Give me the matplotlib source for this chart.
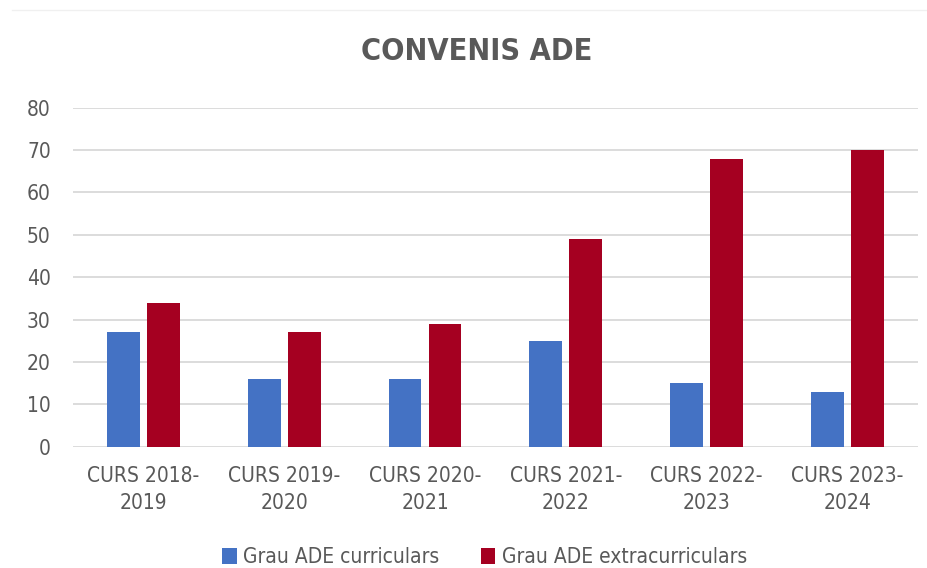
import matplotlib.pyplot as plt
import numpy as np

# Convenis ADE per curs
cursos = ['CURS 2018-\n2019', 'CURS 2019-\n2020', 'CURS 2020-\n2021',
          'CURS 2021-\n2022', 'CURS 2022-\n2023', 'CURS 2023-\n2024']
curriculars = [27, 16, 16, 25, 15, 13]
extracurriculars = [34, 27, 29, 49, 68, 70]

plt.rcParams['font.family'] = ['DejaVu Sans']
plt.rcParams['font.stretch'] = 'condensed'
gris = '#595959'

fig = plt.figure(figsize=(9.28, 5.68), dpi=100)
ax = fig.add_axes([0.0787, 0.2136, 0.9103, 0.5968])

x = np.arange(len(cursos))
w = 0.234
ax.bar(x - 0.142, curriculars, w, color='#4472C4', label='Grau ADE curriculars', zorder=3)
ax.bar(x + 0.142, extracurriculars, w, color='#A50021', label='Grau ADE extracurriculars', zorder=3)

ax.set_xlim(-0.5, len(cursos) - 0.5)
ax.set_ylim(0, 80)
ax.set_yticks(range(0, 81, 10))
ax.set_xticks(x)
ax.set_xticklabels(cursos, fontsize=15, color=gris, linespacing=1.45)
ax.tick_params(axis='y', labelsize=15, labelcolor=gris, length=0, pad=16)
ax.tick_params(axis='x', length=0, pad=14)
ax.grid(axis='y', color='#D9D9D9', linewidth=1.3, zorder=0)
for s in ax.spines.values():
    s.set_visible(False)

fig.text(0.514, 1 - 52 / 568, 'CONVENIS ADE', ha='center', va='center',
         fontsize=22, fontweight='bold', color=gris)
fig.add_artist(plt.Line2D([12 / 928, 1], [1 - 10 / 568] * 2, color='#F0F0F0', linewidth=1))

fig.legend(loc='center', bbox_to_anchor=(0.522, 1 - 557 / 568), ncol=2, frameon=False,
           fontsize=15, labelcolor=gris, handlelength=0.7, handleheight=0.8,
           handletextpad=0.3, columnspacing=2.0)

fig.savefig('out.png', dpi=100)
